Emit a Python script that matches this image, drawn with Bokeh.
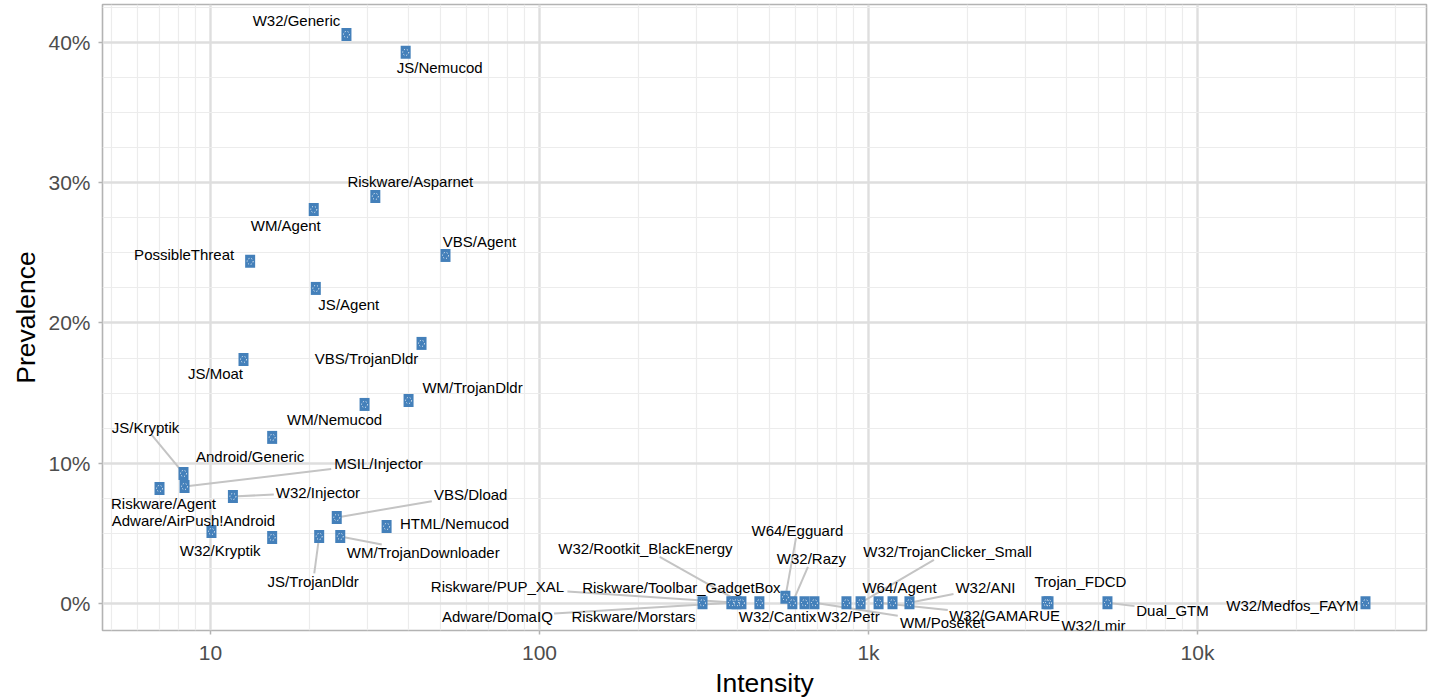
import math
from bokeh.plotting import figure
from bokeh.models import ColumnDataSource, FixedTicker, PrintfTickFormatter, Range1d
from bokeh.embed import file_html
from bokeh.resources import INLINE
from bokeh.core.properties import value

# ---------------- data ----------------
names = [
    "W32/Generic", "JS/Nemucod", "Riskware/Asparnet", "WM/Agent", "PossibleThreat",
    "VBS/Agent", "JS/Agent", "VBS/TrojanDldr", "JS/Moat", "WM/TrojanDldr",
    "WM/Nemucod", "Android/Generic", "JS/Kryptik", "MSIL/Injector", "Riskware/Agent",
    "W32/Injector", "VBS/Dload", "HTML/Nemucod", "Adware/AirPush!Android", "W32/Kryptik",
    "JS/TrojanDldr", "WM/TrojanDownloader", "Riskware/Morstars", "Adware/DomaIQ",
    "Riskware/PUP_XAL", "W32/Rootkit_BlackEnergy", "Riskware/Toolbar_GadgetBox",
    "W64/Egguard", "W32/Razy", "W32/Cantix", "WM/Poseket", "W32/Petr",
    "W32/TrojanClicker_Small", "W32/GAMARUE", "W64/Agent", "W32/ANI",
    "Trojan_FDCD", "W32/Lmir", "Dual_GTM", "W32/Medfos_FAYM",
]
intensity = [
    25.9, 39.2, 31.7, 20.6, 13.2,
    51.8, 20.9, 43.8, 12.6, 40.0,
    29.4, 15.4, 8.28, 8.34, 7.0,
    11.7, 24.2, 34.3, 10.07, 15.4,
    21.4, 24.8, 313, 383,
    397, 411, 466,
    559, 587, 639, 685, 857,
    946, 1073, 1183, 1332,
    3475, 3525, 5325, 32400,
]
prevalence = [
    40.57, 39.29, 29.02, 28.09, 24.39,
    24.81, 22.46, 18.54, 17.40, 14.47,
    14.19, 11.84, 9.27, 8.34, 8.20,
    7.63, 6.13, 5.49, 5.13, 4.71,
    4.78, 4.78, 0.05, 0.05,
    0.05, 0.05, 0.05,
    0.45, 0.05, 0.05, 0.05, 0.05,
    0.05, 0.05, 0.05, 0.05,
    0.05, 0.05, 0.05, 0.05,
]

# ---------------- repelled label layout (screen px offsets from the point) ----------------
label_dx = [-50, 34, 35, -28, -66,
            34, 33, -55, -28, 64,
            -30, -22, -38, 194, 4,
            85, 134, 68, -18, -52,
            -6, 83, -69, -234,
            -239, -96, -78,
            12, 19, -27, 128, 2,
            87, 126, 7, 76,
            34, 45, 65, -73]
label_dy = [-14, 15, -15, 16, -7,
            -14, 16, 15, 14, -13,
            15, 19, -46, -23, 15,
            -4, -23, -3, -11, 13,
            45, 16, 14, 14,
            -16, -54, -15,
            -67, -44, 14, 20, 14,
            -51, 13, -15, -15,
            -21, 23, 8, 3]
label_seg = [0, 0, 0, 0, 0,
             0, 0, 0, 0, 0,
             0, 0, 1, 1, 0,
             1, 1, 0, 0, 0,
             1, 1, 0, 1,
             1, 1, 0,
             1, 1, 0, 1, 0,
             1, 1, 0, 1,
             0, 0, 1, 0]

# ---------------- geometry ----------------
X_MIN, X_MAX = 4.697, 49660.0
Y_MIN, Y_MAX = -1.925, 42.70
FW, FH = 1324, 626
PXD = FW / (math.log10(X_MAX) - math.log10(X_MIN))
PXY = FH / (Y_MAX - Y_MIN)
FONT = "Liberation Sans"
LABEL_FS = 15


def text_w(s, fs=LABEL_FS):
    w = 0.0
    for ch in s:
        if ch in "ijl":
            w += 0.222
        elif ch in "I!/ft":
            w += 0.278
        elif ch == "r":
            w += 0.333
        elif ch in "mM":
            w += 0.833
        elif ch == "W":
            w += 0.944
        elif ch == "w":
            w += 0.722
        elif ch in "sckvyzJ":
            w += 0.5
        elif ch.isupper():
            w += 0.69
        else:
            w += 0.556
    return w * fs


lx, ly, sx0, sy0, sx1, sy1 = [], [], [], [], [], []
for n, xv, yv, dx, dy, sg in zip(names, intensity, prevalence, label_dx, label_dy, label_seg):
    lgx = math.log10(xv)
    lx.append(10 ** (lgx + dx / PXD))
    ly.append(yv - dy / PXY)
    if sg:
        hw = text_w(n) / 2 + 2
        hh = 8
        # segment ends where the line from the label centre to the point leaves the label box
        t = min(hw / abs(dx) if dx else 1e9, hh / abs(dy) if dy else 1e9)
        ex, ey = dx * (1 - t), dy * (1 - t)
        sx0.append(xv)
        sy0.append(yv)
        sx1.append(10 ** (lgx + ex / PXD))
        sy1.append(yv - ey / PXY)

pts = ColumnDataSource(dict(x=intensity, y=prevalence, name=names))
lab = ColumnDataSource(dict(x=lx, y=ly, name=names))
seg = ColumnDataSource(dict(x0=sx0, y0=sy0, x1=sx1, y1=sy1))

p = figure(
    x_axis_type="log",
    x_range=Range1d(X_MIN, X_MAX),
    y_range=Range1d(Y_MIN, Y_MAX),
    frame_width=FW, frame_height=FH,
    min_border_left=102, min_border_right=4, min_border_top=4, min_border_bottom=64,
    output_backend="svg", toolbar_location=None,
    x_axis_label="Intensity", y_axis_label="Prevalence",
    background_fill_color="white", border_fill_color="white",
)

x_major = [10, 100, 1000, 10000]
x_minor = [m * 10 ** k for k in range(0, 5) for m in range(2, 10) if X_MIN <= m * 10 ** k <= X_MAX]
y_major = [0, 10, 20, 30, 40]
y_minor = [-2.5, 2.5, 5, 7.5, 12.5, 15, 17.5, 22.5, 25, 27.5, 32.5, 35, 37.5, 42.5]

p.xaxis.ticker = FixedTicker(ticks=x_major, minor_ticks=x_minor)
p.yaxis.ticker = FixedTicker(ticks=y_major, minor_ticks=y_minor)
p.xaxis.major_label_overrides = {10: "10", 100: "100", 1000: "1k", 10000: "10k"}
p.yaxis.formatter = PrintfTickFormatter(format="%d%%")

for ax in (p.xaxis[0], p.yaxis[0]):
    ax.axis_line_color = None
    ax.major_tick_line_color = "#B3B3B3"
    ax.major_tick_line_width = 1.5
    ax.major_tick_out = 4
    ax.major_tick_in = 0
    ax.minor_tick_line_color = None
    ax.major_label_text_font = FONT
    ax.major_label_text_font_size = "21px"
    ax.major_label_text_color = "#4D4D4D"
    ax.axis_label_text_font = FONT
    ax.axis_label_text_font_size = "26.5px"
    ax.axis_label_text_font_style = "normal"
    ax.axis_label_text_color = "#000000"
p.xaxis.major_label_standoff = 6
p.yaxis.major_label_standoff = 8
p.xaxis.axis_label_standoff = 1
p.yaxis.axis_label_standoff = 4

for g in (p.xgrid[0], p.ygrid[0]):
    g.grid_line_color = "#DEDEDE"
    g.grid_line_width = 2.4
    g.minor_grid_line_color = "#ECECEC"
    g.minor_grid_line_width = 1.2

p.outline_line_color = "#B3B3B3"
p.outline_line_width = 1.6

p.segment(x0="x0", y0="y0", x1="x1", y1="y1", source=seg, line_color="#C4C4C4", line_width=2)
p.rect(x="x", y="y", width=10, height=13, width_units="screen", height_units="screen",
       source=pts, fill_color="#4480BA", line_color=None)
p.scatter(x="x", y="y", source=pts, marker="circle", size=6, fill_color=None,
          line_color="white", line_width=1, line_dash="1 2")
p.text(x="x", y="y", text="name", source=lab, text_align="center", text_baseline="middle",
       text_font=value(FONT), text_font_size=f"{LABEL_FS}px", text_color="#000000")

open("out.html", "w").write(file_html(p, INLINE))
